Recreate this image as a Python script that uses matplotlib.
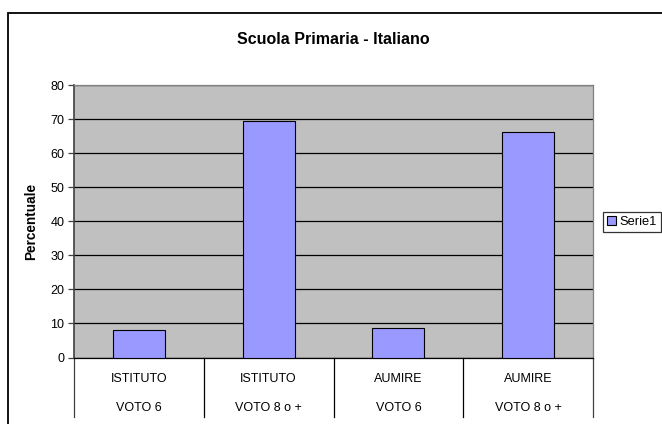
import matplotlib.pyplot as plt
from matplotlib.patches import Rectangle
import matplotlib.transforms as mtransforms

plt.rcParams['font.family'] = ['Liberation Sans', 'DejaVu Sans']

# data
top_labels = ['ISTITUTO', 'ISTITUTO', 'AUMIRE', 'AUMIRE']
bottom_labels = ['VOTO 6', 'VOTO 8 o +', 'VOTO 6', 'VOTO 8 o +']
values = [8.2, 69.4, 8.8, 66.2]
yticks = [0, 10, 20, 30, 40, 50, 60, 70, 80]

W, H = 662, 424
fig = plt.figure(figsize=(W / 100, H / 100), dpi=100)
fig.patch.set_facecolor('white')

# outer chart border (cropped at right and bottom)
fig.patches.append(Rectangle((7.5 / W, -0.1), 1.2, (H - 13.5) / H + 0.1,
                             transform=fig.transFigure, fill=False,
                             edgecolor='black', linewidth=1.3))

ax = fig.add_axes([74 / W, (H - 357.5) / H, (593 - 74) / W, (357.5 - 85) / H])
ax.set_facecolor('#C0C0C0')

x = list(range(len(values)))
ax.bar(x, values, width=0.4, color='#9999FF', edgecolor='black',
       linewidth=0.8, label='Serie1', zorder=3)

ax.set_xlim(-0.5, len(values) - 0.5)
ax.set_ylim(0, 80)
ax.set_yticks(yticks)
ax.yaxis.grid(True, color='black', linewidth=0.9, zorder=1)
ax.set_axisbelow(True)
ax.tick_params(axis='y', direction='out', length=4, width=0.9,
               color='#404040', labelsize=9, pad=3)
ax.set_xticks([])

for s in ['top', 'right']:
    ax.spines[s].set_color('#808080')
    ax.spines[s].set_linewidth(0.9)
ax.spines['left'].set_color('#404040')
ax.spines['left'].set_linewidth(1.2)
ax.spines['bottom'].set_color('black')
ax.spines['bottom'].set_linewidth(0.9)

# two-level category axis with separators
trans = mtransforms.blended_transform_factory(ax.transData, ax.transAxes)
sep_bottom = -(416.7 - 357.5) / (357.5 - 85)
for i in range(len(values) + 1):
    ax.plot([i - 0.5, i - 0.5], [0, sep_bottom], transform=trans,
            color='black' if 0 < i < len(values) else '#404040',
            linewidth=0.9, clip_on=False)
row1 = -(379 - 357.5) / (357.5 - 85)
row2 = -(408 - 357.5) / (357.5 - 85)
for i in x:
    ax.text(i, row1, top_labels[i], transform=trans, ha='center',
            va='center', fontsize=9)
    ax.text(i, row2, bottom_labels[i], transform=trans, ha='center',
            va='center', fontsize=9)

fig.text(333 / W, 1 - 40 / H, 'Scuola Primaria - Italiano', ha='center',
         va='center', fontsize=11.5, fontweight='bold')
fig.text(31 / W, 1 - 221 / H, 'Percentuale', ha='center', va='center',
         rotation=90, fontsize=9.8, fontweight='bold')

leg = ax.legend(loc='center left', bbox_to_anchor=(603 / W, 1 - 222 / H),
                bbox_transform=fig.transFigure, fontsize=9.3, frameon=True,
                fancybox=False, edgecolor='black', borderpad=0.3,
                handlelength=0.7, handleheight=0.7, handletextpad=0.3,
                borderaxespad=0)
leg.get_frame().set_linewidth(0.9)

fig.savefig('out.png', dpi=100)
